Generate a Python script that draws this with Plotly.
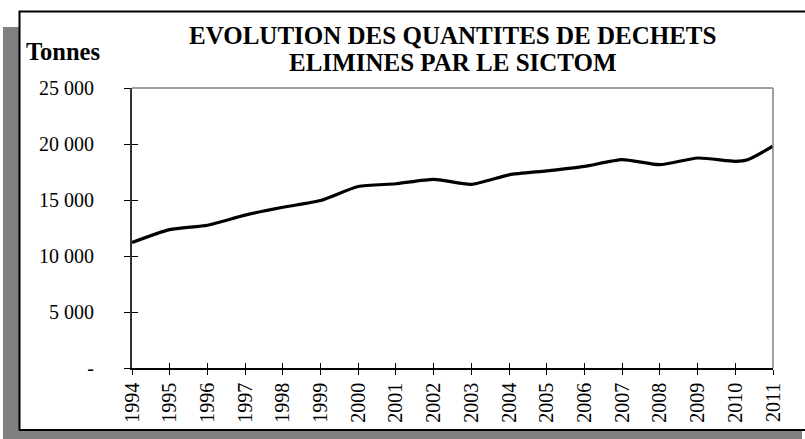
import plotly.graph_objects as go

years = [1994, 1995, 1996, 1997, 1998, 1999, 2000, 2001, 2002, 2003,
         2004, 2005, 2006, 2007, 2008, 2009, 2010, 2010.33, 2011]
tonnes = [11200, 12350, 12750, 13650, 14350, 14950, 16200, 16450, 16850, 16400,
          17250, 17600, 18000, 18600, 18150, 18750, 18450, 18600, 19800]
tick_years = list(range(1994, 2012))
y_ticks = [0, 5000, 10000, 15000, 20000, 25000]
y_labels = ["-", "5 000", "10 000", "15 000", "20 000", "25 000"]
title_l1 = "EVOLUTION DES QUANTITES DE DECHETS"
title_l2 = "ELIMINES PAR LE SICTOM"
y_title = "Tonnes"

W, H = 805, 439
ML = 40
L, R, T, B = 132, 773, 88, 368
def px(x):
    return (x - ML) / (R - ML)
def py(y):
    return (B - y) / (B - T)

FONT = "Liberation Serif"
axis_font = dict(family=FONT, size=20, color="black")

fig = go.Figure()
fig.add_trace(go.Scatter(x=years, y=tonnes, mode="lines",
                         line=dict(color="black", width=3.2, shape="spline", smoothing=0.6),
                         hoverinfo="skip", showlegend=False))
fig.add_trace(go.Scatter(x=years, y=tonnes, mode="lines", xaxis="x2", yaxis="y2",
                         line=dict(color="rgba(0,0,0,0)", width=0),
                         hoverinfo="skip", showlegend=False))
fig.add_trace(go.Scatter(x=years, y=tonnes, mode="lines", xaxis="x", yaxis="y3",
                         line=dict(color="rgba(0,0,0,0)", width=0),
                         hoverinfo="skip", showlegend=False))

fig.update_layout(
    width=W, height=H,
    margin=dict(l=ML, r=W - R, t=T, b=H - B, pad=0),
    paper_bgcolor="white", plot_bgcolor="white",
    font=dict(family=FONT, color="black"),
    xaxis=dict(domain=[px(L), 1], range=[1994, 2011], tickvals=tick_years,
               ticktext=[str(y) for y in tick_years],
               tickangle=-90, ticks="outside", ticklen=5, tickwidth=1.3, tickcolor="black",
               showline=True, linecolor="black", linewidth=1.5, showgrid=False, zeroline=False,
               tickfont=axis_font),
    yaxis=dict(range=[0, 25000], tickvals=y_ticks, showticklabels=False,
               ticks="outside", ticklen=6, tickwidth=1.3, tickcolor="black",
               showline=True, linecolor="#333333", linewidth=1.5, showgrid=False, zeroline=False),
    xaxis2=dict(overlaying="x", matches="x", anchor="y2", side="bottom", domain=[px(L), 1],
                tickvals=tick_years, ticks="inside", ticklen=5, tickwidth=1.3, tickcolor="black",
                showticklabels=False, showline=False, showgrid=False, zeroline=False),
    yaxis2=dict(overlaying="y", matches="y", anchor="x2", side="left",
                tickvals=y_ticks, ticks="inside", ticklen=6, tickwidth=1.3, tickcolor="black",
                showticklabels=False, showline=False, showgrid=False, zeroline=False),
    yaxis3=dict(overlaying="y", matches="y", anchor="free", position=px(94), side="left",
                tickvals=y_ticks, ticktext=y_labels, ticks="", showline=False,
                showgrid=False, zeroline=False, tickfont=axis_font),
    shapes=[
        dict(type="rect", xref="paper", yref="paper", x0=px(3), x1=px(802), y0=py(450), y1=py(27),
             fillcolor="#808080", line=dict(width=0), layer="below"),
        dict(type="rect", xref="paper", yref="paper", x0=px(19.5), x1=px(840), y0=py(430), y1=py(11.5),
             fillcolor="white", line=dict(color="black", width=2), layer="below"),
        dict(type="line", xref="paper", yref="paper", x0=px(L), x1=1, y0=1, y1=1,
             line=dict(color="#808080", width=1.5)),
        dict(type="line", xref="paper", yref="paper", x0=1, x1=1, y0=0, y1=1,
             line=dict(color="#808080", width=1.5)),
    ],
    annotations=[
        dict(text="<b>%s</b>" % title_l1, xref="paper", yref="paper", x=px(452.5), y=py(35.5),
             xanchor="center", yanchor="middle", showarrow=False,
             font=dict(family=FONT, size=25, color="black")),
        dict(text="<b>%s</b>" % title_l2, xref="paper", yref="paper", x=px(452.5), y=py(62.5),
             xanchor="center", yanchor="middle", showarrow=False,
             font=dict(family=FONT, size=25, color="black")),
        dict(text="<b>%s</b>" % y_title, xref="paper", yref="paper", x=px(24), y=py(51.5),
             xanchor="left", yanchor="middle", showarrow=False,
             font=dict(family=FONT, size=24.5, color="black")),
    ],
)

fig.write_html("out.html", config={"displayModeBar": False},
               post_script="document.body.style.margin='0';")
